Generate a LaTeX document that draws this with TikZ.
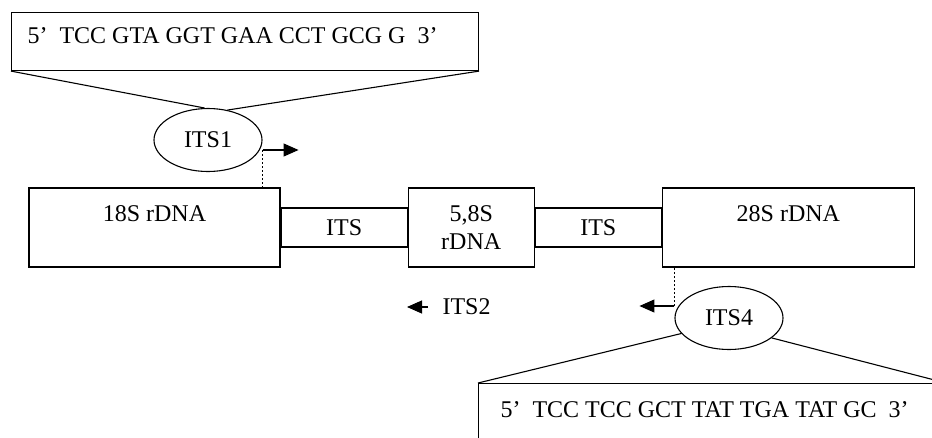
\documentclass[tikz,border=0pt]{standalone}
\usepackage{fontspec}
\setmainfont{Liberation Serif}
\usetikzlibrary{positioning,shapes.geometric,arrows.meta}
\tikzset{block/.style={draw,rectangle,inner sep=0pt,font=\fontsize{24}{28}\selectfont},
  primer/.style={draw,ellipse,inner sep=0pt,minimum width=108pt,minimum height=63pt,font=\fontsize{24}{28}\selectfont},
  seqtext/.style={inner sep=0pt,anchor=base west,font=\fontsize{24}{28}\selectfont},
  tip/.style={-{Triangle[length=15pt,width=13pt]}},
  dots/.style={line width=1.6pt,dash pattern=on 1.6pt off 2.4pt}}

\begin{document}
\begin{tikzpicture}[x=1pt, y=-1pt, line width=1.1pt, node distance=0pt]
\useasboundingbox (0,0) rectangle (932,437);
\clip (0,0) rectangle (932,437);

% Sequenze
\node [block, minimum width=467pt, minimum height=58pt, anchor=north west] (seqA) at (11,12) {};
\node [seqtext] (seqAtext) at ([shift={(16,31)}]seqA.north west) {5’\ \ TCC GTA GGT GAA CCT GCG G\ \ 3’};
\node [primer] (its1) at (208,140) {ITS1};
\node [block, minimum width=467pt, minimum height=58pt, anchor=north west] (seqB) at (478,383) {};
\node [seqtext] (seqBtext) at ([shift={(22,34)}]seqB.north west) {5’\ \ TCC TCC GCT TAT TGA TAT GC\ \ 3’};
\node [primer] (its4) at (729,318) {ITS4};
\node [inner sep=0pt, anchor=west, font=\fontsize{24}{28}\selectfont] (its2) at (442,307) {ITS2};

% rDNA
\node [block, minimum width=251pt, minimum height=79pt, align=center] (rDNA18) at (154.5,227.5) {18S rDNA\\~};
\node [block, minimum width=126pt, minimum height=39pt, right=of rDNA18] (spacerA) {ITS};
\node [block, minimum width=126pt, minimum height=79pt, align=center, right=of spacerA] (rDNA58) {5,8S\\rDNA};
\node [block, minimum width=126pt, minimum height=39pt, right=of rDNA58] (spacerB) {ITS};
\node [block, minimum width=252pt, minimum height=79pt, align=center, right=of spacerB] (rDNA28) {28S rDNA\\~};

%Collegamenti
\path (seqA.south west) edge (its1.96) (seqA.south east) edge (its1.57);
\path (its4.198) edge (seqB.north west) (its4.-25) edge (seqB.north east);
\coordinate (its1out) at ([yshift=-10pt]its1.east);
\coordinate (its4out) at ([yshift=12pt]its4.west);
\coordinate (fwd) at ([xshift=36pt]its1out);
\coordinate (rev) at ([xshift=-35pt]its4out);
\draw[tip] (its1out) -- (fwd);
\draw[dots] (its1out) -- (its1out |- rDNA18.north);
\draw[tip] (its4out) -- (rev);
\draw[dots] (its4out) -- (its4out |- rDNA28.south);
\draw[tip] ([xshift=-14pt]its2.west) -- ++(-21,0);

\end{tikzpicture}
\end{document}
